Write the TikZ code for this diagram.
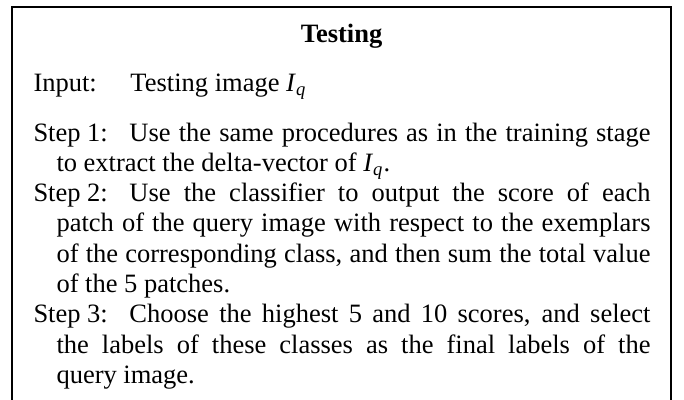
\documentclass[tikz,border=0pt]{standalone}
\usepackage{fontspec}
\setmainfont{Liberation Serif}

% one numbered step: label in a fixed-width box, continuation lines hang-indented
\newcommand\stepitem[2]{%
  \par\hangindent=9.2pt\hangafter=1\noindent
  \makebox[38.4pt][l]{#1}#2\par}
\newcommand\Iq{\textit{I}\textsubscript{\textit{q}}}
\newcommand\bodyfont{\fontsize{10.6}{12.12}\selectfont}

\tikzset{
  frame/.style={line width=0.8pt, line cap=rect},
  txt/.style={anchor=base west, inner sep=0pt, font=\bodyfont},
  title/.style={anchor=base, inner sep=0pt, font=\bodyfont\bfseries}
}

\begin{document}
\begin{tikzpicture}[x=0.4pt, y=-0.4pt]
  \useasboundingbox (0,0) rectangle (684,399);

  % open frame: top edge and both sides, running off the bottom
  \coordinate (bl) at (12,405);
  \coordinate (tl) at (12,7);
  \coordinate (tr) at (671,7);
  \coordinate (br) at (671,405);
  \draw[frame] (bl) -- (tl) -- (tr) -- (br);

  \node[title] (head) at (341.5,42.5) {Testing};

  \node[txt] (input) at (33,91) {\makebox[38.8pt][l]{Input:}Testing image \Iq};

  \node[txt] (steps) at (33,141) {\parbox[t]{246.8pt}{%
    \bodyfont
    \tolerance=10000 \hyphenpenalty=10000 \emergencystretch=0pt
    \parskip=0pt \parindent=0pt
    \stepitem{Step 1:}{Use the same procedures as in the training stage\linebreak
      to extract the delta-vector of \Iq.}
    \stepitem{Step 2:}{Use the classifier to output the score of each\linebreak
      patch of the query image with respect to the exemplars\linebreak
      of the corresponding class, and then sum the total value\linebreak
      of the 5 patches.}
    \stepitem{Step 3:}{Choose the highest 5 and 10 scores, and select\linebreak
      the labels of these classes as the final labels of the\linebreak
      query image.}
  }};
\end{tikzpicture}
\end{document}
